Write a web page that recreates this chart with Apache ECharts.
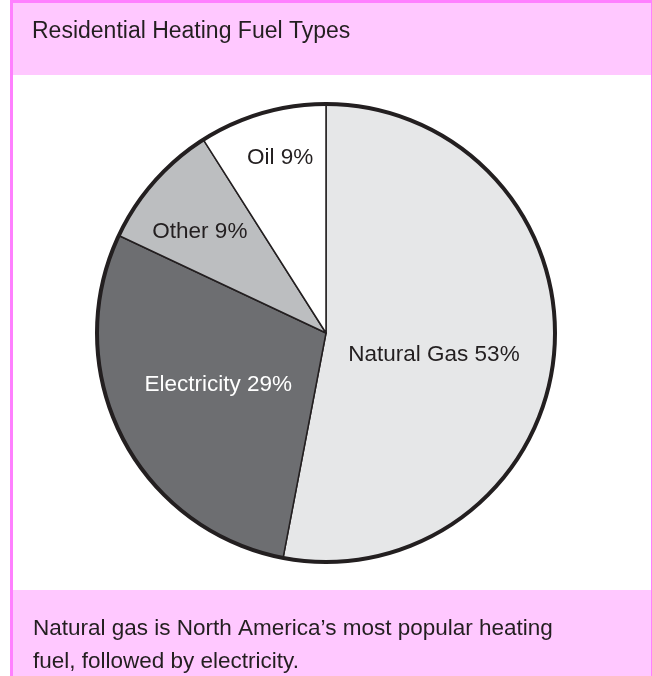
<!DOCTYPE html>
<html>
<head>
<meta charset="utf-8">
<script src="https://cdn.jsdelivr.net/npm/echarts@6/dist/echarts.min.js"></script>
<style>html,body{margin:0;padding:0;background:#fff;}#c{width:652px;height:676px;}</style>
</head>
<body>
<div id="c"></div>
<script>
const titleText = 'Residential Heating Fuel Types';
const captionText = 'Natural gas is North America\u2019s most popular heating\nfuel, followed by electricity.';
const categories = ['Natural Gas', 'Electricity', 'Other', 'Oil'];
const values = [53, 29, 9, 9];
const sliceColors = ['#e6e7e8', '#6d6e71', '#bcbec0', '#ffffff'];
const labelColors = ['#231f20', '#ffffff', '#231f20', '#231f20'];
const labelOffsets = [[-9, 11], [-3, -2], [-38, -23], [-13, -62]];

const FONT = '"Liberation Sans", Arial, sans-serif';
const PINK = '#ffc8ff';
const MAG = '#ff80ff';

const chart = echarts.init(document.getElementById('c'), null, {renderer: 'canvas'});
const center = ['50%', 333];
const radius = 229;

chart.setOption({
  backgroundColor: '#ffffff',
  animation: false,
  graphic: [
    {type: 'rect', z: -10, shape: {x: 10, y: 0, width: 642, height: 676}, style: {fill: MAG}},
    {type: 'rect', z: -9, shape: {x: 13, y: 3, width: 638, height: 72}, style: {fill: PINK}},
    {type: 'rect', z: -9, shape: {x: 13, y: 75, width: 638, height: 515}, style: {fill: '#ffffff'}},
    {type: 'rect', z: -9, shape: {x: 13, y: 590, width: 638, height: 86}, style: {fill: PINK}}
  ],
  title: [
    {text: titleText, left: 27, top: 15, textStyle: {fontFamily: FONT, fontSize: 23, fontWeight: 'normal', color: '#231f20'}},
    {text: captionText, left: 28, top: 607, textStyle: {fontFamily: FONT, fontSize: 22.5, fontWeight: 'normal', color: '#231f20', lineHeight: 33}}
  ],
  series: [
    {
      type: 'pie',
      center: center,
      radius: radius,
      startAngle: 90,
      clockwise: true,
      silent: true,
      data: categories.map((c, i) => ({
        name: c,
        value: values[i],
        itemStyle: {color: sliceColors[i]},
        label: {color: labelColors[i], offset: labelOffsets[i]}
      })),
      itemStyle: {borderColor: '#231f20', borderWidth: 1.5},
      label: {
        show: true,
        position: 'inside',
        formatter: p => p.name + ' ' + p.value + '%',
        fontFamily: FONT,
        fontSize: 22.5
      },
      labelLine: {show: false},
      emphasis: {disabled: true}
    },
    {
      type: 'pie',
      center: center,
      radius: radius,
      silent: true,
      data: [{value: 1, name: 'outline'}],
      itemStyle: {color: 'rgba(0,0,0,0)', borderColor: '#231f20', borderWidth: 4},
      label: {show: false},
      labelLine: {show: false},
      emphasis: {disabled: true}
    }
  ]
});
</script>
</body>
</html>
